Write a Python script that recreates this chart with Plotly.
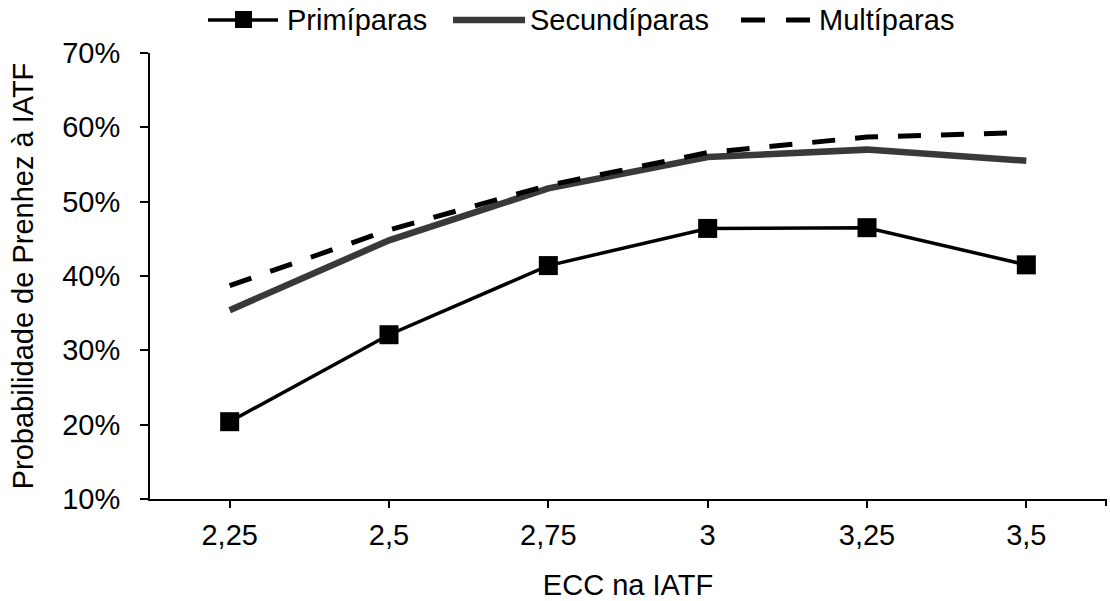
import plotly.graph_objects as go

# ECC (body condition score) at timed AI, and pregnancy probability (%) per parity group
ecc_labels = ["2,25", "2,5", "2,75", "3", "3,25", "3,5"]
primiparas = [20.4, 32.1, 41.4, 46.4, 46.5, 41.5]
secundiparas = [35.4, 44.8, 51.8, 56.0, 57.0, 55.5]
multiparas = [38.7, 46.2, 52.2, 56.6, 58.7, 59.3]

y_ticks = [10, 20, 30, 40, 50, 60, 70]

FONT = "Liberation Sans, Arial, sans-serif"
FS = 29
W, H = 1110, 601
ML, MR, MT, MB = 150, 4, 53, 102
PW, PH = W - ML - MR, H - MT - MB


def px_x(p):
    return (p - ML) / PW


def px_y(p):
    return (H - MB - p) / PH


fig = go.Figure()

fig.add_trace(go.Scatter(
    x=ecc_labels, y=secundiparas, name="Secundíparas", mode="lines",
    line=dict(color="#3b3838", width=6.5), showlegend=False,
))
fig.add_trace(go.Scatter(
    x=ecc_labels, y=multiparas, name="Multíparas", mode="lines",
    line=dict(color="#000000", width=5, dash="23px,20px"), showlegend=False,
))
fig.add_trace(go.Scatter(
    x=ecc_labels, y=primiparas, name="Primíparas", mode="lines+markers",
    line=dict(color="#000000", width=3.5),
    marker=dict(symbol="square", size=19, color="#000000"),
    showlegend=False,
))

# legend drawn across the top: sample line + label for each series
ly = px_y(20)
shapes = [
    dict(type="line", xref="paper", yref="paper", x0=px_x(208), x1=px_x(278), y0=ly, y1=ly,
         line=dict(color="#000000", width=3.5)),
    dict(type="rect", xref="paper", yref="paper", x0=px_x(235), x1=px_x(252),
         y0=px_y(28), y1=px_y(11), fillcolor="#000000", line=dict(width=0)),
    dict(type="line", xref="paper", yref="paper", x0=px_x(453), x1=px_x(525), y0=ly, y1=ly,
         line=dict(color="#3b3838", width=6.5)),
    dict(type="line", xref="paper", yref="paper", x0=px_x(741), x1=px_x(810), y0=ly, y1=ly,
         line=dict(color="#000000", width=5, dash="24px,21px")),
    # closing tick at the right end of the category axis
    dict(type="line", xref="paper", yref="paper", x0=1, x1=1, y0=0, y1=-7 / PH,
         line=dict(color="#000000", width=2)),
]
annotations = [
    dict(text=t, x=px_x(xp), y=ly, xref="paper", yref="paper", xanchor="left", yanchor="middle",
         showarrow=False, font=dict(family=FONT, size=FS, color="#000000"))
    for t, xp in [("Primíparas", 285), ("Secundíparas", 528), ("Multíparas", 817)]
]

fig.update_layout(
    width=W, height=H,
    margin=dict(l=ML, r=MR, t=MT, b=MB, pad=0),
    paper_bgcolor="white", plot_bgcolor="white",
    font=dict(family=FONT, size=FS, color="#000000"),
    shapes=shapes, annotations=annotations,
    showlegend=False,
)
fig.update_xaxes(
    type="category", range=[-0.5, len(ecc_labels) - 0.5],
    showline=True, linecolor="#000000", linewidth=2,
    ticks="outside", ticklen=7, tickwidth=2, tickcolor="#000000",
    ticklabelstandoff=2, showgrid=False, zeroline=False,
    title=dict(text="ECC na IATF", standoff=26, font=dict(size=FS)),
)
fig.update_yaxes(
    range=[10, 70], tickvals=y_ticks, ticktext=[f"{v}%" for v in y_ticks],
    showline=True, linecolor="#000000", linewidth=2,
    ticks="outside", ticklen=8, tickwidth=2, tickcolor="#000000",
    ticklabelstandoff=14, showgrid=False, zeroline=False,
    title=dict(text="Probabilidade de Prenhez à IATF", standoff=20, font=dict(size=FS)),
)

fig.write_html("out.html")
